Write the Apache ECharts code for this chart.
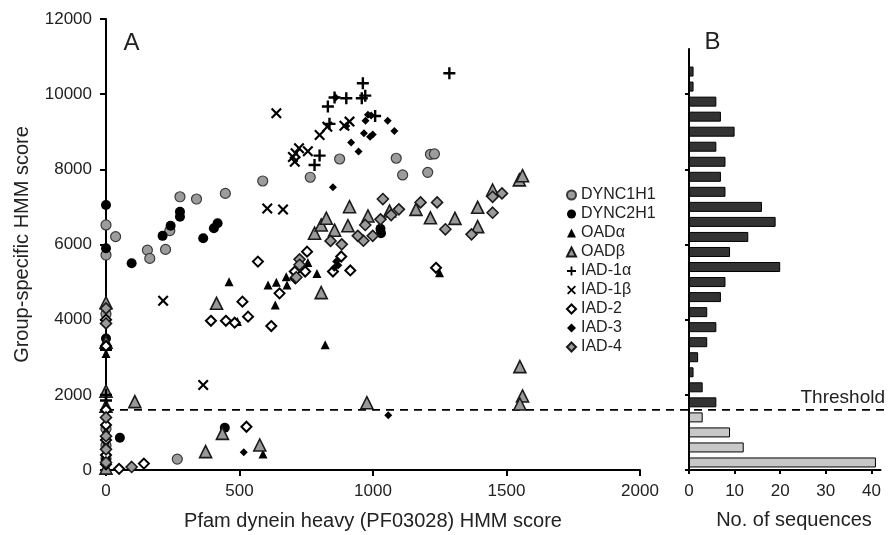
<!DOCTYPE html>
<html><head><meta charset="utf-8">
<script src="https://cdn.jsdelivr.net/npm/echarts@6/dist/echarts.min.js"></script>
<style>html,body{margin:0;padding:0;background:#fff}#c{width:889px;height:535px}</style>
</head><body><div id="c"></div>
<script>
// ---------- data ----------
const THRESHOLD = 1600;
const xTickValues = [0, 500, 1000, 1500, 2000];
const histTickValues = [0, 10, 20, 30, 40];
const binWidth = 400;
// histogram counts, from bin 0-400 upward
const histCounts = [41, 12, 9, 3, 6, 3, 1, 2, 4, 6, 4, 7, 8, 20, 9, 13, 19, 16, 8, 7, 8, 6, 10, 7, 6, 1, 1, 0];

const dync1h1 = [[0,6520],[36,6210],[0,5720],[155,5850],[164,5630],[223,5870],[239,6370],[277,7270],[339,7210],[447,7360],[587,7690],[765,7790],[875,8275],[1087,8295],[1215,8400],[1230,8410],[1111,7850],[1205,7920],[267,290],[0,4150],[0,1100],[0,650],[0,300]];
const dync2h1 = [[0,7050],[0,5900],[96,5500],[212,6230],[242,6500],[277,6870],[277,6740],[364,6165],[404,6430],[418,6565],[52,860],[445,1125],[1028,6420],[1030,6300],[0,3500],[0,250]];
const oadA = [[461,5010],[607,4920],[638,4995],[678,4920],[675,5145],[634,4390],[756,5520],[790,5230],[821,3330],[492,3950],[1249,5250],[588,425],[0,3100],[0,700],[0,100]];
const oadB = [[414,4435],[108,1820],[373,490],[436,975],[576,665],[806,4720],[977,1790],[1550,2750],[1560,1970],[1550,1756],[781,6300],[806,6520],[825,6700],[856,6380],[906,6500],[912,7005],[981,6760],[1062,6890],[1161,6935],[1215,6710],[1307,6695],[1392,6990],[1392,6475],[1448,7450],[1548,7720],[1560,7830],[0,4450],[0,3400],[0,2100],[0,1700],[0,50]];
const iad1a = [[962,10290],[856,9910],[900,9890],[958,9890],[971,9960],[831,9670],[1008,9420],[837,9210],[800,8365],[781,8115],[1286,10555],[0,3200],[0,2000],[0,1850]];
const iad1b = [[638,9490],[604,6960],[663,6930],[700,8330],[707,8200],[710,8430],[723,8560],[756,8480],[800,8915],[829,9135],[893,9160],[912,9270],[214,4505],[364,2260]];
const iad2 = [[569,5545],[393,3970],[449,3970],[482,3920],[532,4080],[511,4480],[619,3830],[650,4700],[707,5280],[746,5280],[709,5100],[753,5810],[850,5280],[881,5680],[915,5310],[1236,5380],[526,1150],[49,30],[142,170],[0,4000],[0,3300],[0,1600],[0,1200],[0,800],[0,400],[0,150]];
const iad3 = [[850,7520],[918,8715],[946,8475],[966,8960],[989,8870],[999,8930],[972,9290],[981,9450],[993,9430],[860,9910],[900,9150],[1055,9290],[1080,9020],[516,470],[1057,1460],[862,5550],[870,5450],[855,5380],[0,1000]];
const iad4 = [[1037,7210],[1178,7120],[1240,7120],[1097,6935],[1068,6785],[1028,6670],[971,6520],[999,6230],[964,6100],[1271,6405],[1369,6270],[1448,6845],[1448,7270],[1483,7360],[841,6095],[883,6005],[943,6230],[725,5605],[725,5460],[713,5130],[96,80],[0,4300],[0,3900],[0,1400],[0,900],[0,550],[0,200]];

// ---------- chart ----------
const FONT = "'Liberation Sans', Arial, sans-serif";
const TXT = '#222';
const histBins = histCounts.map((_, i) => (i * binWidth) + '-' + ((i + 1) * binWidth));
const plusPath = 'path://M4,0H6V4H10V6H6V10H4V6H0V4H4Z';
const crossPath = 'path://M1.4,0L5,3.6L8.6,0L10,1.4L6.4,5L10,8.6L8.6,10L5,6.4L1.4,10L0,8.6L3.6,5L0,1.4Z';
const plain = v => String(v);

function sc(name, data, symbol, size, color, border, bw) {
  return {
    name, type: 'scatter', xAxisIndex: 0, yAxisIndex: 0, data,
    symbol, symbolSize: size,
    itemStyle: { color, borderColor: border || color, borderWidth: bw || 0, opacity: 1 },
    emphasis: { disabled: true }, z: 3
  };
}

const axisLine = { show: true, lineStyle: { color: '#000', width: 2 } };
const tick = { show: true, inside: false, length: 6, lineStyle: { color: '#000', width: 2 } };
const lbl = { color: TXT, fontSize: 17, fontFamily: FONT, formatter: plain };

const chart = echarts.init(document.getElementById('c'), null, { renderer: 'canvas' });
chart.setOption({
  animation: false,
  backgroundColor: '#fff',
  grid: [
    { left: 106, right: 249, top: 19, bottom: 65, containLabel: false, outerBoundsMode: 'none' },
    { left: 689, right: 8.5, top: 49, bottom: 65, containLabel: false, outerBoundsMode: 'none' },
    { left: 106, right: 0, top: 19, bottom: 65, containLabel: false, outerBoundsMode: 'none' }
  ],
  xAxis: [
    { type: 'value', gridIndex: 0, min: 0, max: 2000, interval: 500,
      axisLine, axisTick: tick, splitLine: { show: false },
      axisLabel: Object.assign({ margin: 13, customValues: xTickValues }, lbl),
      name: 'Pfam dynein heavy (PF03028) HMM score', nameLocation: 'middle', nameGap: 41,
      nameTextStyle: { color: TXT, fontSize: 20, fontFamily: FONT } },
    { type: 'value', gridIndex: 1, min: 0, max: 42,
      axisLine, axisTick: Object.assign({ customValues: histTickValues }, tick, { length: 4 }),
      splitLine: { show: false },
      axisLabel: Object.assign({ margin: 13, customValues: histTickValues }, lbl) },
    { type: 'value', gridIndex: 2, min: 0, max: 1, show: false }
  ],
  yAxis: [
    { type: 'value', gridIndex: 0, min: 0, max: 12000, interval: 2000,
      axisLine, axisTick: tick, splitLine: { show: false },
      axisLabel: Object.assign({ margin: 14 }, lbl),
      name: 'Group-specific HMM score', nameLocation: 'middle', nameGap: 74,
      nameTextStyle: { color: TXT, fontSize: 20, fontFamily: FONT } },
    { type: 'category', gridIndex: 1, data: histBins, show: false },
    { type: 'value', gridIndex: 1, min: 0, max: histCounts.length * binWidth, position: 'left', offset: 0,
      axisLine, axisTick: Object.assign({ customValues: [0, 2000, 4000, 6000, 8000, 10000] }, tick, { length: 4 }),
      axisLabel: { show: false }, splitLine: { show: false } },
    { type: 'value', gridIndex: 2, min: 0, max: 12000, show: false }
  ],
  legend: {
    orient: 'vertical', left: 561, top: 182, itemWidth: 9, itemHeight: 9, itemGap: 3,
    textStyle: { color: TXT, fontSize: 16, fontFamily: FONT },
    data: ['DYNC1H1', 'DYNC2H1', 'OADα', 'OADβ', 'IAD-1α', 'IAD-1β', 'IAD-2', 'IAD-3', 'IAD-4'],
    selectedMode: false
  },
  graphic: [
    { type: 'text', x: 131.5, y: 43.5, style: { text: 'A', font: '24px ' + FONT, fill: TXT, textAlign: 'center', textVerticalAlign: 'middle' } },
    { type: 'text', x: 712.5, y: 42.5, style: { text: 'B', font: '24px ' + FONT, fill: TXT, textAlign: 'center', textVerticalAlign: 'middle' } },
    { type: 'text', x: 885, y: 398, style: { text: 'Threshold', font: '19px ' + FONT, fill: TXT, textAlign: 'right', textVerticalAlign: 'middle' } },
    { type: 'text', x: 794, y: 520, style: { text: 'No. of sequences', font: '20px ' + FONT, fill: TXT, textAlign: 'center', textVerticalAlign: 'middle' } }
  ],
  series: [
    { name: 'threshold', type: 'line', xAxisIndex: 2, yAxisIndex: 3,
      data: [[0, THRESHOLD], [1, THRESHOLD]], symbol: 'none', silent: true, z: 1,
      lineStyle: { color: '#000', width: 1.6, type: [8, 6] } },
    { name: 'hist', type: 'bar', xAxisIndex: 1, yAxisIndex: 1, barWidth: 10, z: 2,
      data: histCounts.map((v, i) => ({ value: v,
        itemStyle: { color: (i + 1) * binWidth <= THRESHOLD ? '#c8c8c8' : '#333', borderColor: '#000', borderWidth: 1 } })),
      emphasis: { disabled: true } },
    sc('DYNC1H1', dync1h1, 'circle', 10, '#9c9c9c', '#3a3a3a', 1.2),
    sc('DYNC2H1', dync2h1, 'circle', 10, '#000'),
    sc('OADα', oadA, 'triangle', 9, '#000'),
    sc('OADβ', oadB, 'triangle', 12, '#999', '#1a1a1a', 1.6),
    sc('IAD-1α', iad1a, plusPath, 12, '#000'),
    sc('IAD-1β', iad1b, crossPath, 11, '#000'),
    sc('IAD-2', iad2, 'diamond', 10, '#fff', '#000', 2),
    sc('IAD-3', iad3, 'diamond', 8, '#000'),
    sc('IAD-4', iad4, 'diamond', 11, '#9a9a9a', '#1a1a1a', 1.6)
  ]
});
</script>
</body></html>
